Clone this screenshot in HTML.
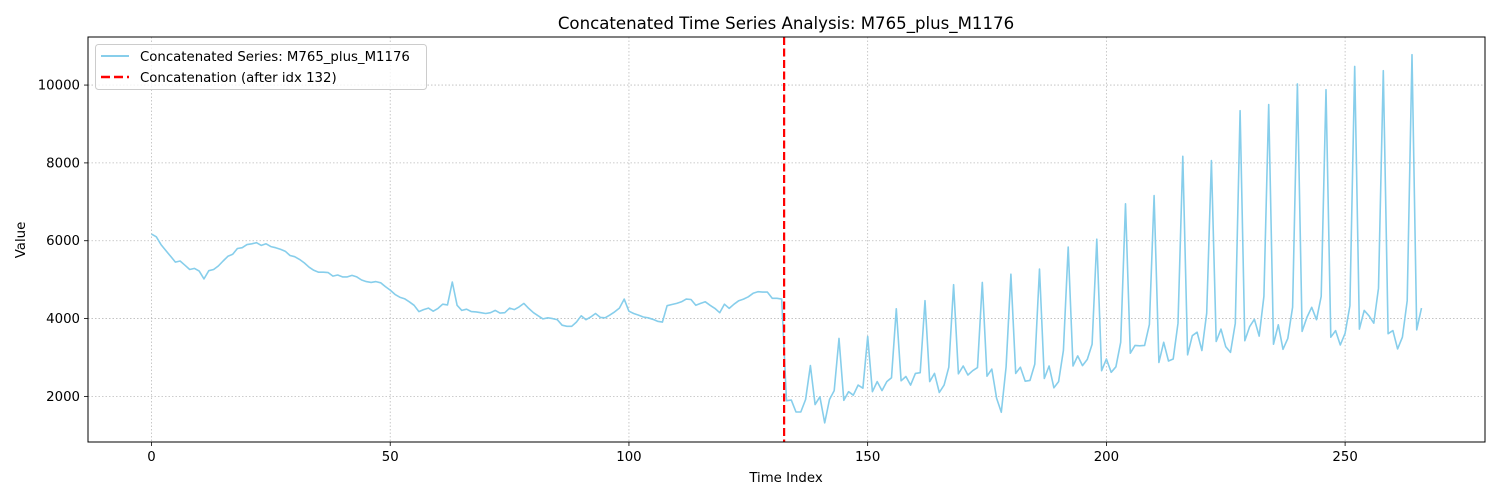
<!DOCTYPE html>
<html><head><meta charset="utf-8"><style>
body{margin:0;background:#fff;}
svg{display:block;font-family:"DejaVu Sans","Liberation Sans",sans-serif;}
</style></head><body>
<svg id="chart" width="1500" height="500" viewBox="0 0 1500 500">
<rect x="0" y="0" width="1500" height="500" fill="#fff"/>
<text x="786" y="29" font-size="16.6" text-anchor="middle">Concatenated Time Series Analysis: M765_plus_M1176</text>
<g id="grid"></g>
<g id="series"></g>
<g id="axes"></g>
<text x="786" y="482" font-size="13.3" text-anchor="middle">Time Index</text>
<text x="25" y="240" font-size="13.3" text-anchor="middle" transform="rotate(-90 25 240)">Value</text>
<g>
<rect x="95.5" y="44.5" width="331" height="45" rx="3" fill="#fff" fill-opacity="0.8" stroke="#ccc"/>
<line x1="101" y1="56" x2="129" y2="56" stroke="#87ceeb" stroke-width="2"/>
<text x="140" y="61" font-size="13.3">Concatenated Series: M765_plus_M1176</text>
<line x1="101" y1="77" x2="129" y2="77" stroke="#ff0000" stroke-width="2.5" stroke-dasharray="9,4"/>
<text x="140" y="82" font-size="13.3">Concatenation (after idx 132)</text>
</g>
</svg>
<script>
const values = [6170,6100,5900,5750,5600,5450,5480,5370,5260,5290,5220,5020,5230,5260,5350,5480,5600,5650,5800,5820,5900,5920,5950,5880,5920,5850,5820,5780,5730,5620,5590,5520,5430,5320,5240,5190,5190,5180,5090,5120,5070,5070,5110,5070,4990,4950,4930,4950,4920,4820,4730,4620,4550,4510,4430,4340,4180,4230,4270,4190,4260,4370,4350,4940,4340,4210,4240,4180,4170,4150,4130,4150,4210,4140,4150,4270,4230,4300,4390,4260,4150,4070,3990,4020,4000,3970,3830,3800,3800,3910,4070,3970,4040,4130,4030,4020,4090,4170,4270,4500,4190,4130,4090,4040,4020,3980,3930,3910,4330,4360,4390,4430,4500,4490,4340,4390,4430,4340,4260,4150,4370,4260,4370,4460,4500,4560,4650,4690,4680,4680,4520,4520,4500,
1890,1905,1600,1600,1920,2790,1790,1990,1320,1920,2150,3490,1900,2120,2030,2290,2210,3540,2120,2380,2150,2380,2480,4250,2400,2510,2290,2590,2610,4460,2380,2590,2100,2290,2750,4870,2580,2780,2550,2660,2740,4930,2520,2700,1950,1590,2760,5140,2590,2750,2390,2410,2830,5270,2460,2780,2220,2380,3180,5840,2780,3040,2790,2950,3340,6040,2660,2960,2620,2760,3390,6950,3110,3310,3300,3310,3850,7160,2870,3390,2910,2960,3880,8170,3070,3560,3650,3180,4140,8060,3410,3730,3280,3130,3880,9340,3430,3790,3980,3550,4570,9500,3340,3840,3210,3490,4290,10030,3670,4030,4290,3970,4570,9880,3520,3690,3320,3620,4330,10480,3730,4210,4070,3880,4780,10370,3610,3690,3220,3520,4460,10780,3710,4270];
const xTicks = [0,50,100,150,200,250];
const yTicks = [2000,4000,6000,8000,10000];
const concatIndex = 132.5;

const L=88,R=1485,T=37,B=442;
const xMin=-13.3,xMax=279.3,yMin=828,yMax=11235;
const sx=v=>L+(v-xMin)/(xMax-xMin)*(R-L);
const sy=v=>B-(v-yMin)/(yMax-yMin)*(B-T);
const NS="http://www.w3.org/2000/svg";
function mk(tag,attrs,parent){const e=document.createElementNS(NS,tag);for(const k in attrs)e.setAttribute(k,attrs[k]);parent.appendChild(e);return e;}
const grid=document.getElementById('grid'),axes=document.getElementById('axes'),series=document.getElementById('series');
xTicks.forEach(t=>{
  const x=sx(t);
  const g=mk('line',{x1:x,y1:T,x2:x,y2:B,stroke:'#bbb','stroke-width':0.8,'stroke-dasharray':'1.5,2'},grid);
  
  
  const tk=mk('line',{x1:x,y1:B,x2:x,y2:B+4,stroke:'#000','stroke-width':0.8},axes);
  
  
  const lb=mk('text',{x:x,y:B+19,'font-size':13.3,'text-anchor':'middle'},axes);
  lb.textContent=t;
  
  
});
yTicks.forEach(t=>{
  const y=sy(t);
  const g=mk('line',{x1:L,y1:y,x2:R,y2:y,stroke:'#bbb','stroke-width':0.8,'stroke-dasharray':'1.5,2'},grid);
  
  
  const tk=mk('line',{x1:L-4,y1:y,x2:L,y2:y,stroke:'#000','stroke-width':0.8},axes);
  
  
  const lb=mk('text',{x:L-8,y:y+4.5,'font-size':13.3,'text-anchor':'end'},axes);
  lb.textContent=t;
  
  
});
const frame=mk('rect',{x:L,y:T,width:R-L,height:B-T,fill:'none',stroke:'#000','stroke-width':1},axes);


const pts=values.map((v,i)=>sx(i).toFixed(1)+','+sy(v).toFixed(1)).join(' ');
const line=mk('polyline',{points:pts,fill:'none',stroke:'#87ceeb','stroke-width':1.6,'stroke-linejoin':'round'},series);


const cx=sx(concatIndex);
const vl=mk('line',{x1:cx,y1:T,x2:cx,y2:B,stroke:'#ff0000','stroke-width':2.2,'stroke-dasharray':'8,3.5'},series);


</script>
</body></html>
